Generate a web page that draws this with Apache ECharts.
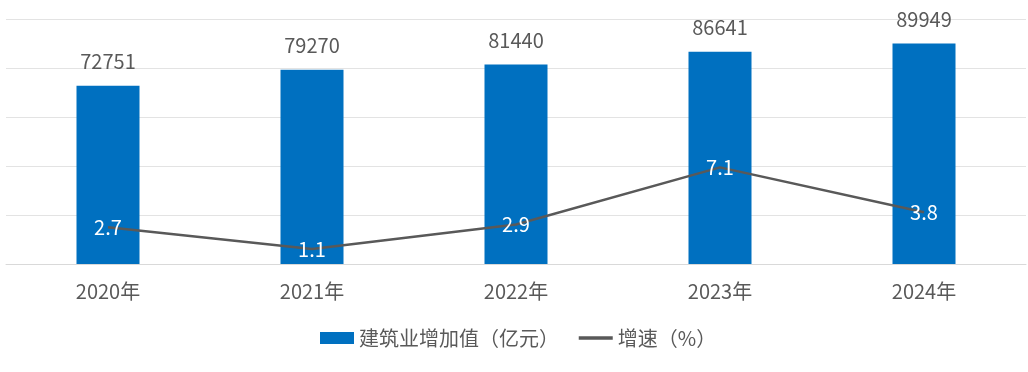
<!DOCTYPE html>
<html>
<head>
<meta charset="utf-8">
<script src="https://cdn.jsdelivr.net/npm/echarts@6/dist/echarts.min.js"></script>
<style>
html,body{margin:0;padding:0;background:#fff;}
#chart{width:1028px;height:372px;}
</style>
</head>
<body>
<div id="chart"></div>
<script>
const categories = ['2020年', '2021年', '2022年', '2023年', '2024年'];
const valueAdded = [72751, 79270, 81440, 86641, 89949];
const growthRate = [2.7, 1.1, 2.9, 7.1, 3.8];
const barName = '建筑业增加值（亿元）';
const lineName = '增速（%）';

const FONT = '"Noto Sans CJK SC", "Noto Sans", sans-serif';
const chart = echarts.init(document.getElementById('chart'), null, {renderer: 'canvas'});
chart.setOption({
  animation: false,
  backgroundColor: '#ffffff',
  textStyle: {fontFamily: FONT},
  grid: {left: 6, right: 2, top: 19, bottom: 108, containLabel: false},
  legend: {
    left: 320,
    top: 328,
    padding: 0,
    itemWidth: 34,
    itemHeight: 12,
    itemGap: 18,
    textStyle: {fontSize: 20, color: '#595959', fontFamily: FONT},
    data: [
      {name: barName, icon: 'rect', itemStyle: {color: '#0070c0'}},
      {name: lineName, itemStyle: {color: 'rgba(0,0,0,0)', borderWidth: 0}, lineStyle: {color: '#595959', width: 3.5}}
    ]
  },
  xAxis: {
    type: 'category',
    data: categories,
    axisTick: {show: false},
    axisLine: {show: true, lineStyle: {color: '#d9d9d9', width: 1}},
    axisLabel: {fontSize: 20, color: '#595959', margin: 17, fontFamily: FONT}
  },
  yAxis: [
    {
      type: 'value', min: 0, max: 100000, interval: 20000,
      axisLabel: {show: false}, axisLine: {show: false}, axisTick: {show: false},
      splitLine: {lineStyle: {color: '#e3e3e3', width: 1}}
    },
    {
      type: 'value', min: 0, max: 18,
      axisLabel: {show: false}, axisLine: {show: false}, axisTick: {show: false},
      splitLine: {show: false}
    }
  ],
  series: [
    {
      name: barName,
      type: 'bar',
      data: valueAdded,
      barWidth: 63,
      itemStyle: {color: '#0070c0'},
      label: {show: true, position: 'top', distance: 14, fontSize: 20, color: '#595959', fontFamily: FONT}
    },
    {
      name: lineName,
      type: 'line',
      yAxisIndex: 1,
      data: growthRate,
      symbol: 'circle',
      symbolSize: 1,
      showSymbol: true,
      itemStyle: {color: 'rgba(0,0,0,0)', borderWidth: 0},
      lineStyle: {color: '#595959', width: 2.5},
      label: {show: true, position: 'inside', fontSize: 20, color: '#ffffff', fontFamily: FONT},
      z: 5
    }
  ]
});
</script>
</body>
</html>
